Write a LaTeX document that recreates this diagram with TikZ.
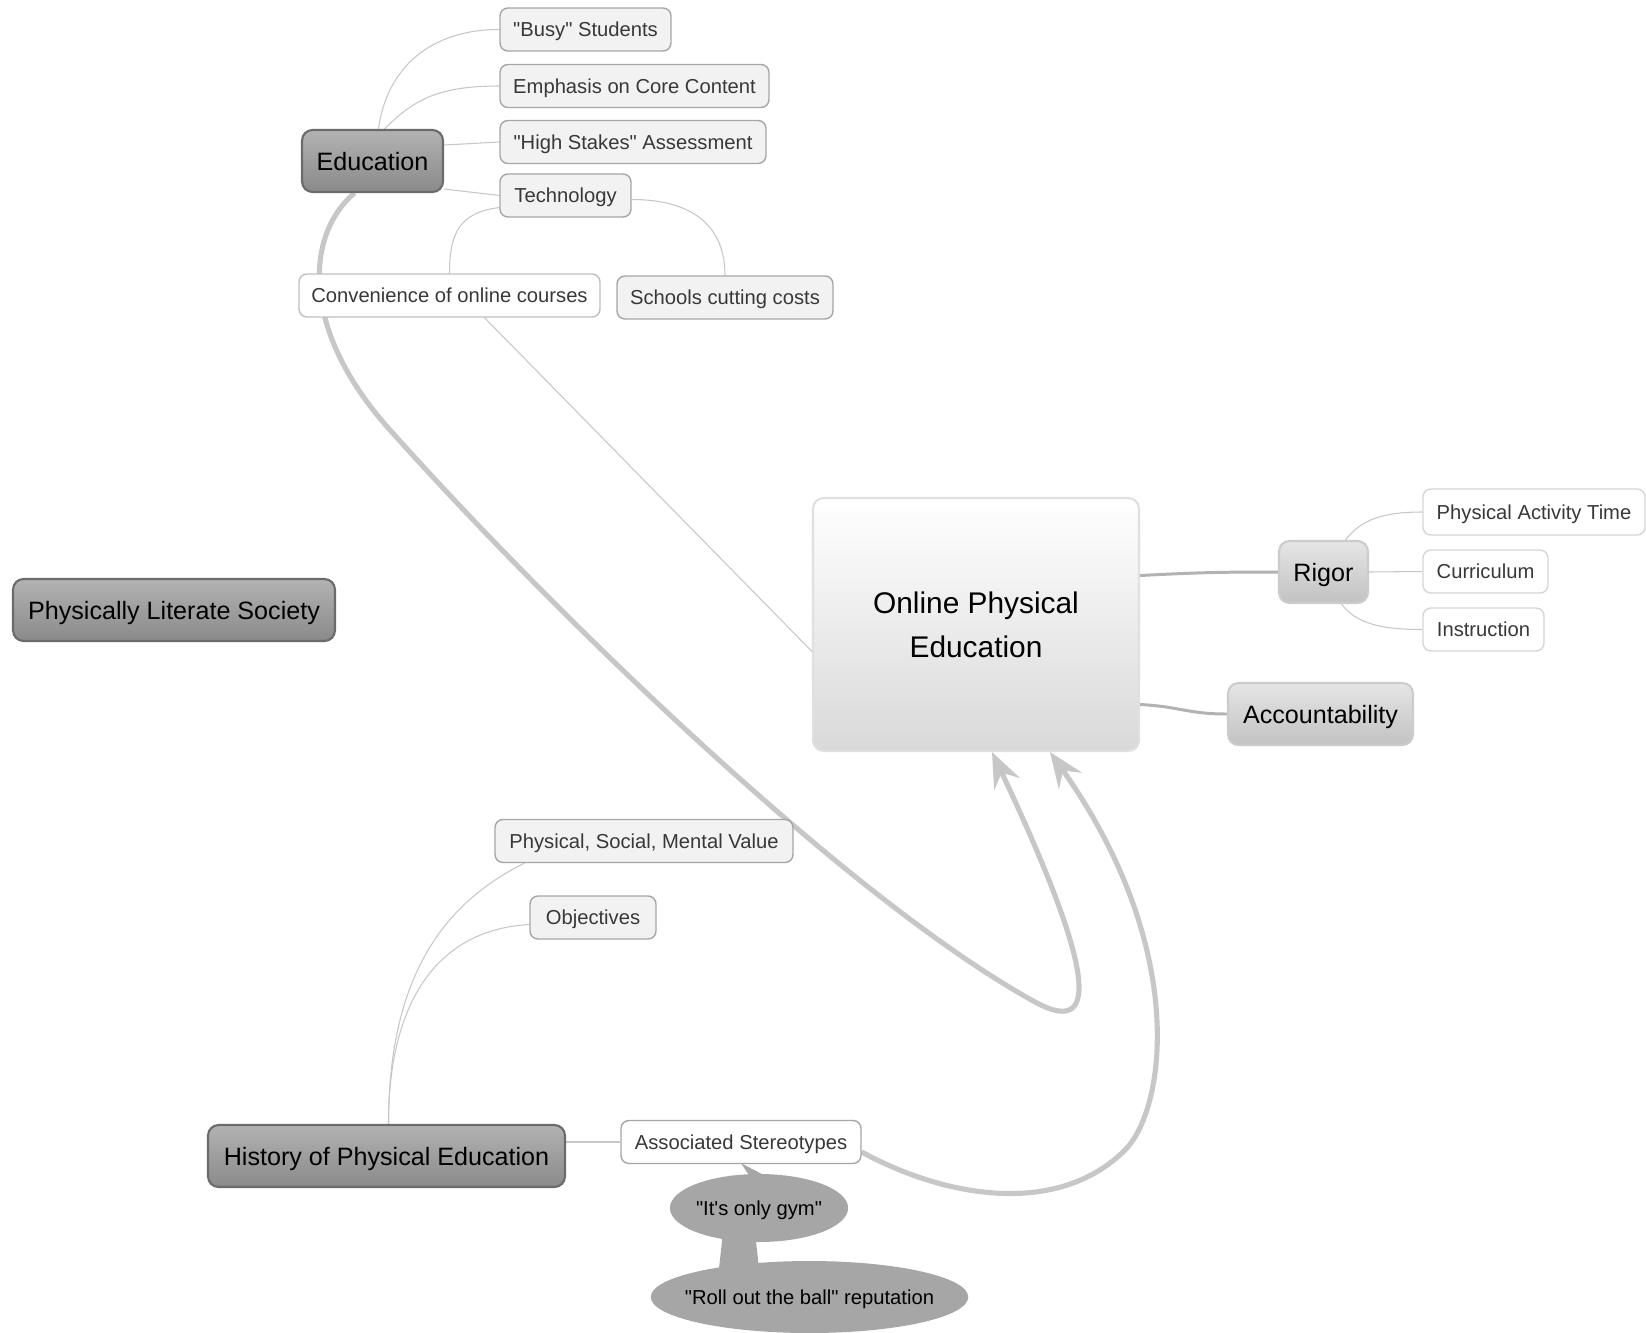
\documentclass[tikz,border=0pt]{standalone}
\usepackage{fontspec}
\setmainfont{Liberation Sans}[Ligatures=TeXOff]
\usetikzlibrary{shapes.geometric,arrows.meta,calc,backgrounds}

\begin{document}
\begin{tikzpicture}[x=0.02cm, y=-0.02cm,
    leaf/.style={draw=black!35, line width=0.8pt, fill=black!5, rounded corners=4.5pt, text=black!78, font=\fontsize{11.5}{13}\selectfont, minimum height=0.86cm, inner sep=2pt, text depth=0pt},
    paleleaf/.style={leaf, draw=black!16, fill=white},
    topic/.style={draw=black!58, line width=1.2pt, top color=black!30, bottom color=black!46, rounded corners=6pt, font=\fontsize{14.3}{16}\selectfont, minimum height=1.24cm, inner sep=2pt, text depth=0pt},
    subtopic/.style={topic, draw=black!20, top color=black!10, bottom color=black!24},
    hub/.style={draw=black!12, line width=1.2pt, top color=white, bottom color=black!15, rounded corners=6pt, font=\fontsize{17}{25}\selectfont, align=center},
    blob/.style={ellipse, fill=black!35, font=\fontsize{11.5}{13}\selectfont, inner sep=0pt, text depth=0pt},
    twig/.style={draw=black!22, line width=0.6pt},
    limb/.style={draw=black!30, line width=1.7pt},
    link/.style={draw=black!22, line width=2.9pt, -{Stealth[length=20pt,width=16pt,inset=7pt]}}
]
    \useasboundingbox (0,0) rectangle (1646,1332);

    % Education branch
    \node[topic, minimum width=2.82cm] (edu) at (372.5,161) {Education};
    \node[leaf, minimum width=3.42cm] (busy) at (585.5,29.5) {"Busy" Students};
    \node[leaf, minimum width=5.38cm] (core) at (634.5,86) {Emphasis on Core Content};
    \node[leaf, minimum width=5.32cm] (stakes) at (633,142) {"High Stakes" Assessment};
    \node[leaf, minimum width=2.62cm] (tech) at (565.5,195.5) {Technology};
    \node[paleleaf, draw=black!25, minimum width=6.02cm] (conv) at (449.5,295.5) {Convenience of online courses};
    \node[leaf, minimum width=4.32cm] (costs) at (725,297.5) {Schools cutting costs};

    % centre and right side
    \node[hub, minimum width=6.52cm, minimum height=5.06cm] (ope) at (976,624.5) {Online Physical\\Education};
    \node[subtopic, minimum width=1.78cm] (rigor) at (1323.5,572) {Rigor};
    \node[paleleaf, minimum width=4.44cm, minimum height=0.92cm] (pat) at (1534,512) {Physical Activity Time};
    \node[paleleaf, minimum width=2.5cm] (curr) at (1485.5,571.5) {Curriculum};
    \node[paleleaf, minimum width=2.42cm] (instr) at (1483.5,629.5) {Instruction};
    \node[subtopic, minimum width=3.7cm] (acc) at (1320.5,714) {Accountability};

    \node[topic, minimum width=6.44cm] (pls) at (174,610) {Physically Literate Society};

    % History branch
    \node[leaf, minimum width=5.96cm] (psm) at (644,841) {Physical, Social, Mental Value};
    \node[leaf, minimum width=2.52cm] (obj) at (593,917.5) {Objectives};
    \node[topic, minimum width=7.14cm] (hist) at (386.5,1156) {History of Physical Education};
    \node[leaf, fill=white, minimum width=4.8cm] (stereo) at (741,1142) {Associated Stereotypes};
    \node[blob, minimum width=3.48cm, minimum height=1.36cm] (gym) at (759,1208) {"It's only gym"};
    \node[blob, inner xsep=-7pt, minimum width=6.34cm, minimum height=1.44cm] (ball) at (809.5,1297) {"Roll out the ball" reputation};

    \begin{scope}[on background layer]
    \fill[white] (0,0) rectangle (1646,1332);
    \draw[twig] ($(edu.north)+(6,0)$) .. controls +(8,-60) and +(-70,0) .. (busy.west);
    \draw[twig] ($(edu.north)+(12,0)$) .. controls +(30,-30) and +(-60,0) .. (core.west);
    \draw[twig] ($(edu.east)+(0,-16)$) -- (stakes.west);
    \draw[twig] ($(edu.east)+(0,28)$) -- (tech.west);
    \draw[twig] ($(tech.west)+(0,12)$) .. controls +(-40,5) and +(0,-40) .. (conv.north);
    \draw[twig] ($(tech.east)+(0,4)$) .. controls +(60,0) and +(0,-50) .. (costs.north);
    \draw[twig] ($(conv.south)+(35,0)$) -- ($(ope.west)+(0,27)$);

    \draw[limb] ($(ope.east)+(0,-49)$) .. controls +(60,-3) and +(-60,0) .. (rigor.west);
    \draw[limb] ($(ope.east)+(0,80)$) .. controls +(40,2) and +(-40,0) .. (acc.west);
    \draw[twig] ($(rigor.north)+(22,0)$) .. controls +(15,-20) and +(-40,0) .. (pat.west);
    \draw[twig] (rigor.east) -- (curr.west);
    \draw[twig] ($(rigor.south)+(18,0)$) .. controls +(15,20) and +(-40,0) .. (instr.west);

    \draw[twig] ($(hist.north)+(2,0)$) .. controls +(0,-160) and +(-70,35) .. ($(psm.south west)+(30,0)$);
    \draw[twig] ($(hist.north)+(2,0)$) .. controls +(0,-125) and +(-90,5) .. ($(obj.west)+(0,7)$);
    \draw[twig] ($(hist.east)+(0,-14)$) -- (stereo.west);
    \fill[black!35] ($(gym.north)+(-9,3)$) -- ($(stereo.south)+(0,-1)$) -- ($(gym.north)+(8,3)$) -- cycle;
    \fill[black!35] ($(gym.south)+(-36,-10)$) -- ($(gym.south)+(-4,-10)$) -- ($(gym.south)+(0,26)$) -- ($(gym.south)+(-40,26)$) -- cycle;

    % thick arrows into the centre
    \draw[link] ($(edu.south)+(-18,0)$) .. controls (305,235) and (300,330) .. (390,430)
        .. controls (560,620) and (850,900) .. (1035,1002)
        .. controls (1105,1040) and (1090,960) .. ($(ope.south)+(16,0)$);
    \draw[link] ($(stereo.east)+(0,10)$) .. controls (950,1200) and (1060,1215) .. (1125,1150)
        .. controls (1165,1110) and (1190,950) .. ($(ope.south)+(74,0)$);
    \end{scope}
\end{tikzpicture}
\end{document}
